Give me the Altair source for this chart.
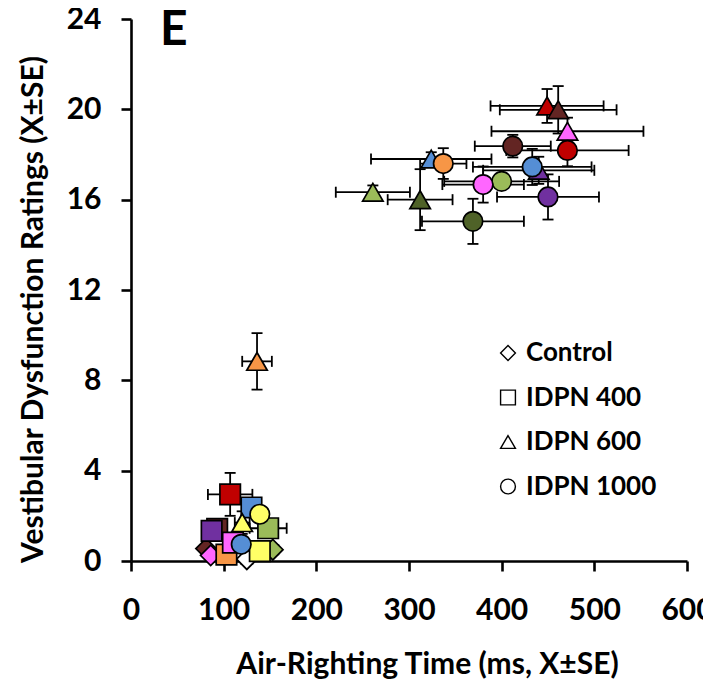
import altair as alt
import pandas as pd

# ---- data ----
RED, BRN, PNK, BLU, LGR = "#C00000", "#632523", "#FF66FF", "#558ED5", "#9BBB59"
OLV, PUR, ORG, YEL, WHT = "#4F6228", "#7030A0", "#F79646", "#FFFF66", "#FFFFFF"

groups = ["Control", "IDPN 400", "IDPN 600", "IDPN 1000"]

# Control (diamonds)
ctl_color = [BRN, PNK, WHT, LGR]
ctl_x     = [81, 86, 125, 153]
ctl_xse   = [4, 4, 6, 6]
ctl_y     = [0.55, 0.25, 0.08, 0.5]
ctl_yse   = [0.1, 0.1, 0.05, 0.1]

# IDPN 400 (squares)
i400_color = [ORG, YEL, BRN, PUR, PNK, RED, BLU, LGR]
i400_x     = [103, 139, 93, 87, 110, 107, 130, 148]
i400_xse   = [8, 10, 8, 8, 10, 24, 10, 20]
i400_y     = [0.28, 0.44, 1.42, 1.33, 0.81, 2.95, 2.37, 1.45]
i400_yse   = [0.2, 0.3, 0.3, 0.3, 0.3, 0.95, 0.3, 0.3]

# IDPN 600 (triangles)
i600_color = [YEL, ORG, LGR, OLV, BLU, PUR, PNK, RED, BRN]
i600_x     = [120, 136, 261, 312, 324, 440, 471, 449, 461]
i600_xse   = [8, 16, 40, 35, 65, 60, 82, 61, 63]
i600_y     = [1.7, 8.84, 16.33, 16.0, 17.8, 17.3, 19.03, 20.15, 19.98]
i600_yse   = [0.5, 1.25, 0.3, 1.35, 0.3, 0.6, 0.6, 0.75, 1.05]

# IDPN 1000 (circles)
i1000_color = [BLU, YEL, OLV, LGR, PNK, BLU, ORG, PUR, BRN, RED]
i1000_x     = [119, 139, 369, 400, 380, 433, 337, 450, 412, 471]
i1000_xse   = [6, 8, 55, 62, 44, 64, 25, 55, 41, 66]
i1000_y     = [0.74, 2.07, 15.04, 16.81, 16.67, 17.45, 17.6, 16.12, 18.37, 18.18]
i1000_yse   = [0.2, 0.3, 1.0, 0.3, 0.8, 0.8, 0.68, 1.0, 0.5, 0.7]

x_ticks = [0, 100, 200, 300, 400, 500, 600]
y_ticks = [0, 4, 8, 12, 16, 20, 24]

legend_labels = ["Control", "IDPN 400", "IDPN 600", "IDPN 1000"]

# ---- tables ----
def frame(g, c, x, xs, y, ys):
    return pd.DataFrame({"group": g, "fill": c, "x": x, "xse": xs, "y": y, "yse": ys})

parts = [
    frame("Control", ctl_color, ctl_x, ctl_xse, ctl_y, ctl_yse),
    frame("IDPN 400", i400_color, i400_x, i400_xse, i400_y, i400_yse),
    frame("IDPN 600", i600_color, i600_x, i600_xse, i600_y, i600_yse),
    frame("IDPN 1000", i1000_color, i1000_x, i1000_xse, i1000_y, i1000_yse),
]
df = pd.concat(parts, ignore_index=True)
df["xlo"] = df["x"] - df["xse"]
df["xhi"] = df["x"] + df["xse"]
df["ylo"] = df["y"] - df["yse"]
df["yhi"] = df["y"] + df["yse"]

FONT = "Lato"

xscale = alt.Scale(domain=[0, 600], nice=False)
yscale = alt.Scale(domain=[0, 24], nice=False)

xaxis = alt.Axis(values=x_ticks, title="Air-Righting Time (ms, X±SE)", labelFlush=False,
                 titleX=296, titleY=103, titleBaseline="middle", titleAlign="center",
                 titleFontSize=30)
yaxis = alt.Axis(values=y_ticks, title="Vestibular Dysfunction Ratings (X±SE)", labelFlush=False,
                 titleX=-98, titleY=290, titleBaseline="middle", titleAlign="center",
                 titleAngle=-90, titleFontSize=30)

def XF(f):
    return alt.X(f"{f}:Q", scale=xscale, axis=xaxis)

def YF(f):
    return alt.Y(f"{f}:Q", scale=yscale, axis=yaxis)

base = alt.Chart(df)

hbar = base.mark_rule(color="black", strokeWidth=1.8).encode(x=XF("xlo"), x2="xhi:Q", y=YF("y"))
vbar = base.mark_rule(color="black", strokeWidth=1.8).encode(x=XF("x"), y=YF("ylo"), y2="yhi:Q")
cap_style = dict(color="black", thickness=1.8, size=11, opacity=1)
cap_l = base.mark_tick(orient="vertical", **cap_style).encode(x=XF("xlo"), y=YF("y"))
cap_r = base.mark_tick(orient="vertical", **cap_style).encode(x=XF("xhi"), y=YF("y"))
cap_b = base.mark_tick(orient="horizontal", **cap_style).encode(x=XF("x"), y=YF("ylo"))
cap_t = base.mark_tick(orient="horizontal", **cap_style).encode(x=XF("x"), y=YF("yhi"))

shapes = {"Control": ("diamond", 420), "IDPN 400": ("square", 420),
          "IDPN 600": ("triangle-up", 420), "IDPN 1000": ("circle", 380)}
point_layers = []
for g in groups:
    shp, sz = shapes[g]
    point_layers.append(
        base.transform_filter(alt.datum.group == g)
        .mark_point(shape=shp, size=sz, filled=True, stroke="black", strokeWidth=1.7, opacity=1)
        .encode(x=XF("x"), y=YF("y"), fill=alt.Fill("fill:N", scale=None))
    )

# legend drawn as text + hollow symbols
leg = pd.DataFrame({"label": legend_labels, "i": list(range(len(legend_labels))),
                    "shape": ["diamond", "square", "triangle-up", "circle"]})
leg_base = alt.Chart(leg).transform_calculate(py="334 + 44.5*datum.i")
leg_sym = leg_base.mark_point(filled=False, stroke="black", strokeWidth=1.4, size=220, opacity=1).encode(
    x=alt.value(377), y=alt.Y("py:Q", scale=None),
    shape=alt.Shape("shape:N", scale=None))
leg_txt = leg_base.mark_text(align="left", baseline="middle", font=FONT, fontWeight="bold",
                             fontSize=26, color="black").encode(
    x=alt.value(395), y=alt.Y("py:Q", scale=None), text="label:N")

panel = alt.Chart(pd.DataFrame({"t": ["E"]})).mark_text(
    align="left", baseline="alphabetic", font=FONT, fontWeight="bold", fontSize=48, color="black"
).encode(x=alt.value(29), y=alt.value(26), text="t:N")

chart = alt.layer(hbar, vbar, cap_l, cap_r, cap_b, cap_t, *point_layers, leg_sym, leg_txt, panel).properties(
    width=556, height=542, autosize="none",
    padding={"left": 123, "top": 11, "right": 16, "bottom": 119},
).configure_view(stroke=None).configure_axis(
    grid=False, domainColor="black", domainWidth=2.6, tickColor="black", tickWidth=2.6,
    tickSize=10, labelFont=FONT, labelFontWeight="bold", labelFontSize=30, labelColor="black",
    titleFont=FONT, titleFontWeight="bold", titleFontSize=31, titleColor="black",
).configure_axisX(labelPadding=24).configure_axisY(labelPadding=20)

chart.save("out.html", embed_options={"renderer": "svg", "actions": False})
